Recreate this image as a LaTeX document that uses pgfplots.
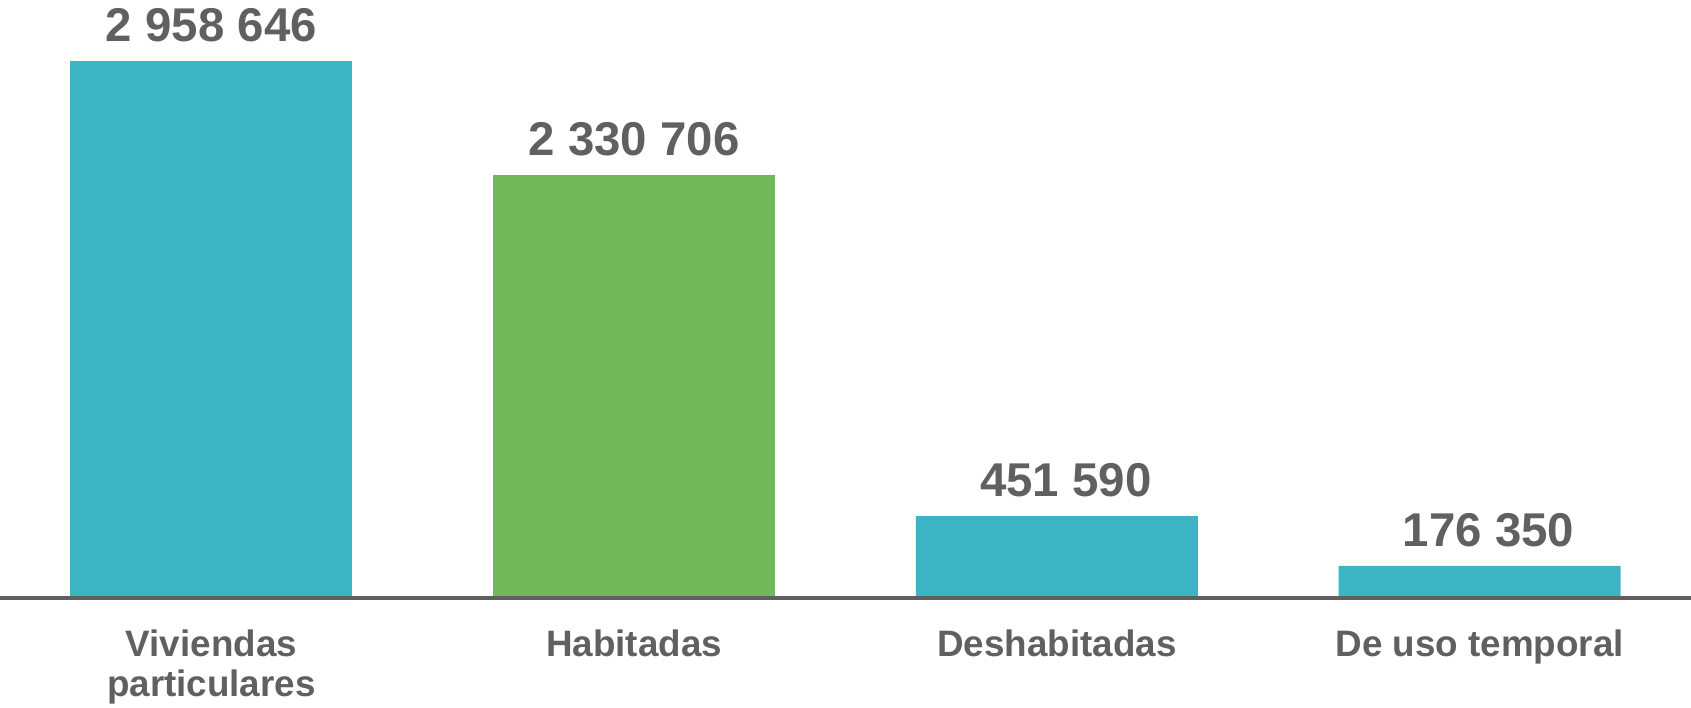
\documentclass[border=0pt]{standalone}
\usepackage{pgfplots}
\pgfplotsset{compat=1.18}
\usepackage{fontspec}
\setmainfont{Liberation Sans}
\definecolor{teal}{RGB}{60,180,195}
\definecolor{grn}{RGB}{114,184,91}
\definecolor{txt}{RGB}{96,96,96}
\begin{document}
\begin{tikzpicture}
\path[use as bounding box] (0,0) rectangle (845.5pt,353.5pt);
\begin{axis}[
  at={(0pt,54.5pt)}, anchor=south west,
  scale only axis,
  width=845.5pt, height=299pt,
  xmin=-0.5, xmax=3.5, ymin=0, ymax=3294800,
  enlargelimits=false, clip=false,
  axis on top=true,
  axis x line*=bottom, axis y line=none,
  x axis line style={draw=txt, line width=2pt},
  xtick={0,1,2,3},
  xticklabels={{Viviendas\\particulares},{Habitadas},{Deshabitadas},{De uso temporal}},
  major tick length=0pt, xtick style={draw=none},
  ytick=\empty,
  xticklabel style={inner sep=0pt, yshift=-15.5pt, anchor=north, align=center,
    font=\fontsize{18.4}{20.3}\selectfont\bfseries, text=txt},
  ybar, bar width=141pt, bar shift=0pt,
  nodes near coords, point meta=explicit symbolic,
  every node near coord/.style={inner sep=0pt, anchor=south, yshift=9.5pt,
    font=\fontsize{23.7}{26}\selectfont\bfseries, text=txt},
]
\addplot[draw=none, fill=teal] coordinates {(0,2958646) [2 958 646]};
\addplot[draw=none, fill=grn] coordinates {(1,2330706) [2 330 706]};
\addplot[draw=none, fill=teal, every node near coord/.append style={xshift=4.5pt}] coordinates {(2,451590) [451 590] (3,176350) [176 350]};
\end{axis}
\end{tikzpicture}
\end{document}
